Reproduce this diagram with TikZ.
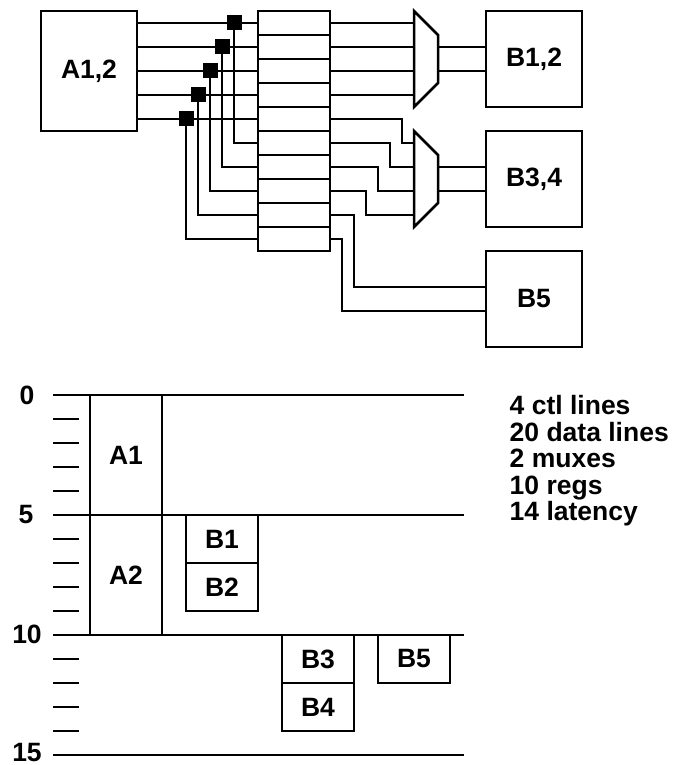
\documentclass[tikz,border=0pt]{standalone}
\usepackage{fontspec}
\setmainfont{Liberation Sans}
\tikzset{
    unitbox/.style = {draw=black, line width=2.5pt, inner sep=0pt, outer sep=0pt, minimum width=96pt, font=\fontsize{26.5}{30}\selectfont\bfseries},
    regbox/.style = {draw=black, line width=2.5pt, inner sep=0pt, outer sep=0pt, minimum width=72pt, minimum height=24pt},
    slotbox/.style = {draw=black, line width=2.5pt, inner sep=0pt, outer sep=0pt, minimum width=72pt, font=\fontsize{26.5}{30}\selectfont\bfseries},
    tapdot/.style = {fill=black, inner sep=0pt, outer sep=0pt, minimum size=15pt},
    wire/.style = {line width=2.5pt},
    gridline/.style = {line width=1.3pt},
    cyclelabel/.style = {inner sep=0pt, font=\fontsize{26.5}{30}\selectfont\bfseries},
    factlabel/.style = {anchor=base west, inner sep=0pt, font=\fontsize{26.5}{30}\selectfont\bfseries}
}
\begin{document}
\begin{tikzpicture}[x=1pt,y=-1pt]
    \useasboundingbox (0,0) rectangle (673,765);

    \node[unitbox, minimum height=120pt] (a12) at (89,71) {A1,2};
    \node[unitbox, minimum height=96pt] (b12) at (534,59) {B1,2};
    \node[unitbox, minimum height=96pt] (b34) at (534,179) {B3,4};
    \node[unitbox, minimum height=96pt] (b5) at (534,299) {B5};

    \node[regbox] (r1) at (294,23) {};
    \node[regbox] (r2) at (294,47) {};
    \node[regbox] (r3) at (294,71) {};
    \node[regbox] (r4) at (294,95) {};
    \node[regbox] (r5) at (294,119) {};
    \node[regbox] (r6) at (294,143) {};
    \node[regbox] (r7) at (294,167) {};
    \node[regbox] (r8) at (294,191) {};
    \node[regbox] (r9) at (294,215) {};
    \node[regbox] (r10) at (294,239) {};

    \draw[wire] (a12.east |- r1.west) -- (r1.west);
    \draw[wire] (a12.east |- r2.west) -- (r2.west);
    \draw[wire] (a12.east |- r3.west) -- (r3.west);
    \draw[wire] (a12.east |- r4.west) -- (r4.west);
    \draw[wire] (a12.east |- r5.west) -- (r5.west);

    \node[tapdot] (d1) at (234,23) {};
    \node[tapdot] (d2) at (222,47) {};
    \node[tapdot] (d3) at (210,71) {};
    \node[tapdot] (d4) at (198,95) {};
    \node[tapdot] (d5) at (186,119) {};

    \draw[wire] (d1) |- (r6.west);
    \draw[wire] (d2) |- (r7.west);
    \draw[wire] (d3) |- (r8.west);
    \draw[wire] (d4) |- (r9.west);
    \draw[wire] (d5) |- (r10.west);

    \coordinate (m1tl) at (414,11);
    \coordinate (m1tr) at (438,35);
    \coordinate (m1br) at (438,83);
    \coordinate (m1bl) at (414,107);
    \coordinate (m2tl) at (414,131);
    \coordinate (m2tr) at (438,155);
    \coordinate (m2br) at (438,203);
    \coordinate (m2bl) at (414,227);
    \draw[wire, line join=miter] (m1tl) -- (m1tr) -- (m1br) -- (m1bl) -- cycle;
    \draw[wire, line join=miter] (m2tl) -- (m2tr) -- (m2br) -- (m2bl) -- cycle;

    \draw[wire] (r1.east) -- (r1.east -| m1tl);
    \draw[wire] (r2.east) -- (r2.east -| m1tl);
    \draw[wire] (r3.east) -- (r3.east -| m1tl);
    \draw[wire] (r4.east) -- (r4.east -| m1tl);
    \draw[wire] (r2.east -| m1tr) -- (r2.east -| b12.west);
    \draw[wire] (r3.east -| m1tr) -- (r3.east -| b12.west);

    % jogs into the second mux
    \coordinate (j5) at (402,131);
    \coordinate (j6) at (390,155);
    \coordinate (j7) at (378,179);
    \coordinate (j8) at (366,203);
    \coordinate (j9) at (354,263);
    \coordinate (j10) at (342,275);
    \draw[wire] (r5.east) -| (j5) |- (r6.east -| m2tl);
    \draw[wire] (r6.east) -| (j6) |- (r7.east -| m2tl);
    \draw[wire] (r7.east) -| (j7) |- (r8.east -| m2tl);
    \draw[wire] (r8.east) -| (j8) |- (r9.east -| m2tl);
    \draw[wire] (r7.east -| m2tr) -- (r7.east -| b34.west);
    \draw[wire] (r8.east -| m2tr) -- (r8.east -| b34.west);
    \draw[wire] (r9.east) -| (j9) |- (b5.west |- 0,287);
    \draw[wire] (r10.east) -| (j10) |- (b5.west |- 0,311);

    \coordinate (g0a) at (53,395);
    \coordinate (g0b) at (464,395);
    \coordinate (g5a) at (53,515);
    \coordinate (g5b) at (464,515);
    \coordinate (g10a) at (53,635);
    \coordinate (g10b) at (464,635);
    \coordinate (g15a) at (53,755);
    \coordinate (g15b) at (464,755);
    \draw[gridline] (g0a) -- (g0b);
    \draw[gridline] (g5a) -- (g5b);
    \draw[gridline] (g10a) -- (g10b);
    \draw[gridline] (g15a) -- (g15b);

    \draw[gridline] (53,419) -- (79,419);
    \draw[gridline] (53,443) -- (79,443);
    \draw[gridline] (53,467) -- (79,467);
    \draw[gridline] (53,491) -- (79,491);
    \draw[gridline] (53,539) -- (79,539);
    \draw[gridline] (53,563) -- (79,563);
    \draw[gridline] (53,587) -- (79,587);
    \draw[gridline] (53,611) -- (79,611);
    \draw[gridline] (53,659) -- (79,659);
    \draw[gridline] (53,683) -- (79,683);
    \draw[gridline] (53,707) -- (79,707);
    \draw[gridline] (53,731) -- (79,731);

    \node[cyclelabel] (t0) at (27,395) {0};
    \node[cyclelabel] (t5) at (26,515) {5};
    \node[cyclelabel] (t10) at (27,634) {10};
    \node[cyclelabel] (t15) at (27,753) {15};

    \node[slotbox, minimum height=120pt] (sa1) at (126,455) {A1};
    \node[slotbox, minimum height=120pt] (sa2) at (126,575) {A2};
    \node[slotbox, minimum height=48pt] (sb1) at (222,539) {B1};
    \node[slotbox, minimum height=48pt] (sb2) at (222,587) {B2};
    \node[slotbox, minimum height=48pt] (sb3) at (318,659) {B3};
    \node[slotbox, minimum height=48pt] (sb4) at (318,707) {B4};
    \node[slotbox, minimum height=48pt] (sb5) at (414,659) {B5};

    \node[factlabel] (f1) at (509.5,414.5) {4 ctl lines};
    \node[factlabel] (f2) at (509.5,441) {20 data lines};
    \node[factlabel] (f3) at (509.5,467.5) {2 muxes};
    \node[factlabel] (f4) at (509.5,494) {10 regs};
    \node[factlabel] (f5) at (509.5,520) {14 latency};
\end{tikzpicture}
\end{document}
